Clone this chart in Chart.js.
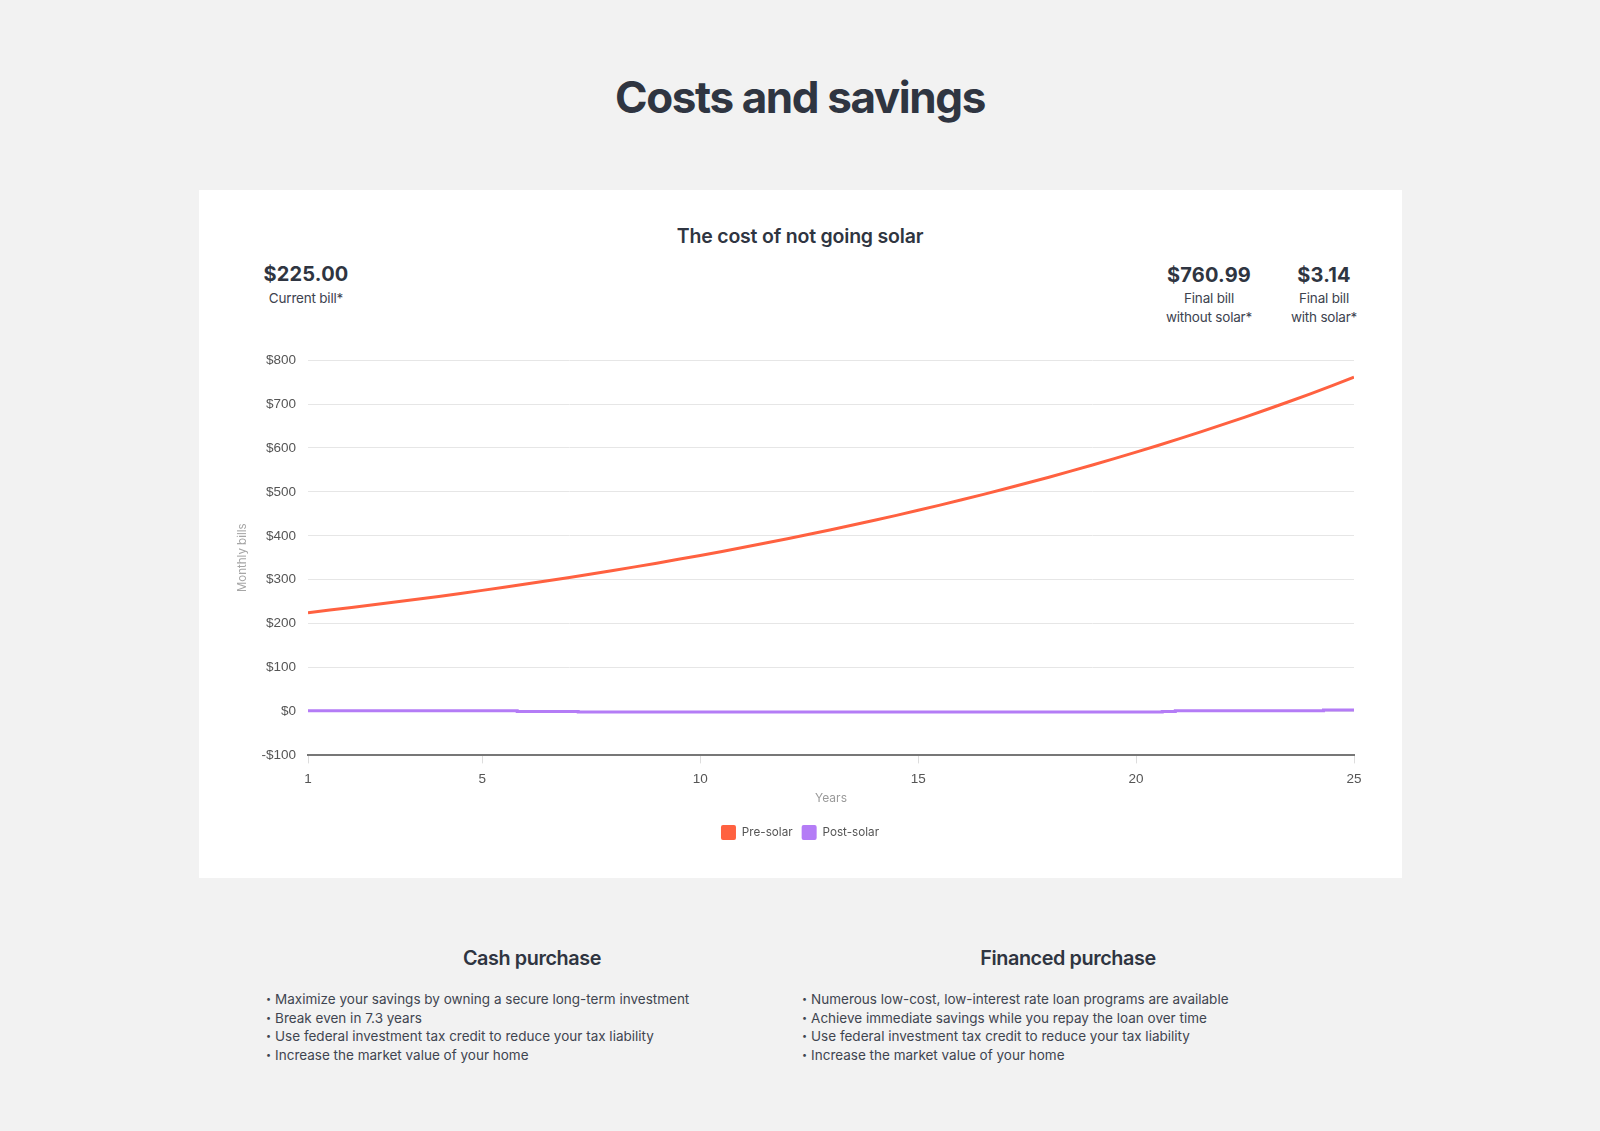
<!DOCTYPE html>
<html lang="en">
<head>
  <meta charset="UTF-8">
  <title>Costs and savings</title>
  <script src="https://cdn.jsdelivr.net/npm/chart.js"></script>
  <style>
    html, body {
      margin: 0;
      padding: 0;
    }
    body {
      width: 1600px;
      height: 1131px;
      position: relative;
      background-color: #f2f2f2;
      font-family: Inter, "Noto Sans", sans-serif;
      color: #2f3541;
      overflow: hidden;
    }
    .abs { position: absolute; }
    .center { text-align: center; }
    #titulo {
      left: 0; width: 1600px; top: 74px;
      font-size: 44px; line-height: 46px; font-weight: 700;
      letter-spacing: -1.4px;
    }
    #tarjeta {
      left: 199px; top: 190px; width: 1203px; height: 688px;
      background: #fff;
    }
    #subtitulo {
      left: 0; width: 1600px; top: 226px;
      font-size: 19.5px; line-height: 20px; font-weight: 600;
      letter-spacing: -0.2px;
    }
    .monto {
      font-size: 20px; line-height: 22px; font-weight: 700;
      letter-spacing: 0.2px;
    }
    .etiqueta {
      font-size: 13.5px; line-height: 18.5px; color: #3d434f;
      letter-spacing: -0.2px;
    }
    #grafico-caja {
      left: 230px; top: 340px; width: 1140px; height: 520px;
    }
    .columna {
      top: 946px; width: 532px;
    }
    .columna h3 {
      margin: 0; text-align: center;
      font-size: 19.8px; line-height: 24px; font-weight: 600;
      letter-spacing: -0.4px;
    }
    .columna ul {
      list-style: none; margin: 0; padding: 0;
      position: absolute; top: 44px; left: 0;
      font-size: 13.5px; line-height: 18.7px; color: #3f4550;
      letter-spacing: 0px; white-space: nowrap;
    }
    .columna li span { font-size: 9px; vertical-align: 2px; margin-right: 4px; }
  </style>
</head>
<body>
  <div id="titulo" class="abs center">Costs and savings</div>
  <div id="tarjeta" class="abs"></div>
  <div id="subtitulo" class="abs center">The cost of not going solar</div>

  <div class="abs center" style="left:226px; width:160px; top:263px;">
    <div class="monto">$225.00</div>
    <div class="etiqueta" style="margin-top:4px;">Current bill*</div>
  </div>
  <div class="abs center" style="left:1129px; width:160px; top:264px;">
    <div class="monto">$760.99</div>
    <div class="etiqueta" style="margin-top:3px;">Final bill<br>without solar*</div>
  </div>
  <div class="abs center" style="left:1254px; width:140px; top:264px;">
    <div class="monto">$3.14</div>
    <div class="etiqueta" style="margin-top:3px;">Final bill<br>with solar*</div>
  </div>

  <div id="grafico-caja" class="abs">
    <canvas id="grafico" width="1140" height="520"></canvas>
  </div>

  <div class="abs columna" style="left:266px;">
    <h3>Cash purchase</h3>
    <ul>
      <li><span>&#8226;</span>Maximize your savings by owning a secure long-term investment</li>
      <li><span>&#8226;</span>Break even in 7.3 years</li>
      <li><span>&#8226;</span>Use federal investment tax credit to reduce your tax liability</li>
      <li><span>&#8226;</span>Increase the market value of your home</li>
    </ul>
  </div>
  <div class="abs columna" style="left:802px;">
    <h3>Financed purchase</h3>
    <ul>
      <li><span>&#8226;</span>Numerous low-cost, low-interest rate loan programs are available</li>
      <li><span>&#8226;</span>Achieve immediate savings while you repay the loan over time</li>
      <li><span>&#8226;</span>Use federal investment tax credit to reduce your tax liability</li>
      <li><span>&#8226;</span>Increase the market value of your home</li>
    </ul>
  </div>

  <script>
    // valores
    const anios = [1, 2, 3, 4, 5, 6, 7, 8, 9, 10, 11, 12, 13, 14, 15, 16, 17, 18, 19, 20, 21, 22, 23, 24, 25];
    const preSolar = [225.0, 236.7, 249.1, 262.0, 275.7, 290.0, 305.1, 321.0, 337.7, 355.3,
                      373.8, 393.3, 413.8, 435.3, 458.0, 481.9, 507.0, 533.4, 561.2, 590.4,
                      621.1, 653.5, 687.5, 723.3, 760.99];
    // post-solar: escalones pequenos alrededor de $0
    const aniosPost = [1, 5.8, 7.2, 20.6, 20.9, 24.3, 25];
    const postSolar = [1.5, 0, -1, 0, 1.5, 3.14, 3.14];
    const ticksX = [1, 5, 10, 15, 20, 25];

    const colorPre = '#ff6140';
    const colorPost = '#b47cf6';
    const fuenteTicks = "'Liberation Sans', Arial, sans-serif";
    const fuenteTexto = "Inter, 'Noto Sans', sans-serif";

    const ctx = document.getElementById('grafico').getContext('2d');
    new Chart(ctx, {
      type: 'line',
      data: {
        datasets: [{
          label: 'Pre-solar',
          data: anios.map((a, i) => ({ x: a, y: preSolar[i] })),
          borderColor: colorPre,
          backgroundColor: colorPre,
          borderWidth: 3,
          pointRadius: 0,
          tension: 0.3,
          fill: false
        }, {
          label: 'Post-solar',
          data: aniosPost.map((a, i) => ({ x: a, y: postSolar[i] })),
          borderColor: colorPost,
          backgroundColor: colorPost,
          borderWidth: 3,
          pointRadius: 0,
          stepped: true,
          fill: false
        }]
      },
      options: {
        responsive: false,
        animation: false,
        layout: { padding: { top: 16, right: 0, bottom: 10, left: 0 } },
        plugins: {
          tooltip: { enabled: false },
          legend: {
            position: 'bottom',
            labels: {
              boxWidth: 15,
              boxHeight: 15,
              padding: 9,
              color: '#555',
              useBorderRadius: true,
              borderRadius: 2,
              font: { family: fuenteTexto, size: 11.7 },
              generateLabels(chart) {
                const items = Chart.defaults.plugins.legend.labels.generateLabels(chart);
                items.forEach(it => { it.lineWidth = 0; });
                return items;
              }
            }
          }
        },
        scales: {
          x: {
            type: 'linear',
            min: 1,
            max: 25,
            afterBuildTicks(scale) {
              scale.ticks = ticksX.map(v => ({ value: v }));
            },
            grid: {
              drawOnChartArea: false,
              drawTicks: true,
              tickLength: 8,
              color: '#dddddd'
            },
            border: { display: true, color: '#777777', width: 2 },
            ticks: {
              padding: 8,
              color: '#555',
              maxRotation: 0,
              font: { family: fuenteTicks, size: 13.5 }
            },
            title: {
              display: true,
              text: 'Years',
              color: '#9a9a9a',
              padding: { top: -4, bottom: 10 },
              font: { family: fuenteTexto, size: 12 }
            }
          },
          y: {
            min: -100,
            max: 800,
            afterFit(scale) { scale.width = 78; },
            ticks: {
              stepSize: 100,
              padding: 12,
              color: '#555',
              font: { family: fuenteTicks, size: 13.5 },
              callback: v => (v < 0 ? '-$' + Math.abs(v) : '$' + v)
            },
            grid: {
              color: '#e6e6e6',
              drawTicks: false
            },
            border: { display: false },
            title: {
              display: true,
              text: 'Monthly bills',
              color: '#a6a6a6',
              padding: { top: 6, bottom: 4 },
              font: { family: fuenteTexto, size: 11.5 }
            }
          },
          // eje vacio a la derecha: solo reserva margen
          derecha: {
            type: 'linear',
            position: 'right',
            min: 0,
            max: 1,
            afterFit(scale) { scale.width = 16; },
            ticks: { display: false },
            grid: { display: false },
            border: { display: false }
          }
        }
      }
    });
  </script>
</body>
</html>
